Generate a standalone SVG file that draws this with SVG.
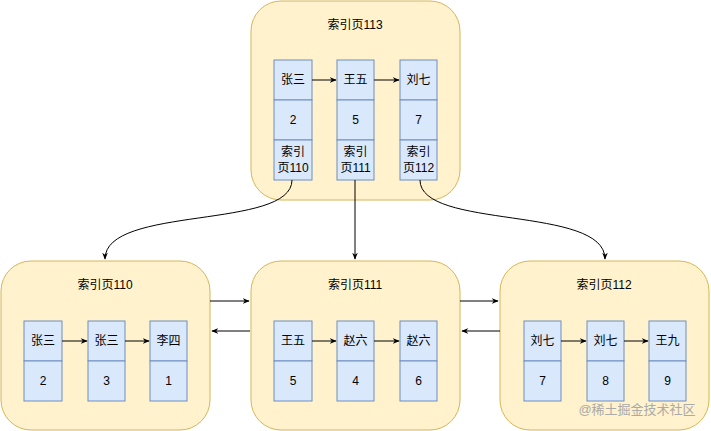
<svg xmlns="http://www.w3.org/2000/svg" width="711" height="431" viewBox="0 0 711 431">
<style>
.box{fill:#fff2cc;stroke:#d6b656;stroke-width:1}
.cell{fill:#dae8fc;stroke:#6c8ebf;stroke-width:1}
text{font-family:"Liberation Sans","Noto Sans CJK SC",sans-serif;font-size:12px;fill:#000;text-anchor:middle;dominant-baseline:central}
.c{fill:none;stroke:#000;stroke-width:1}
</style>
<defs><marker id="a" viewBox="0 0 10 10" refX="9" refY="5" markerWidth="7" markerHeight="7" orient="auto"><path d="M0,1 L10,5 L0,9 L3,5Z" fill="#000"/></marker></defs>
<rect width="711" height="431" fill="#fff"/>
<g id="p113">
<rect class="box" x="251" y="1" width="209" height="199" rx="30"/>
<text x="355" y="25">索引页113</text>
<rect class="cell" x="274" y="60" width="38" height="40"/><rect class="cell" x="274" y="100" width="38" height="40"/><rect class="cell" x="274" y="140" width="38" height="40"/>
<rect class="cell" x="337" y="60" width="37" height="40"/><rect class="cell" x="337" y="100" width="37" height="40"/><rect class="cell" x="337" y="140" width="37" height="40"/>
<rect class="cell" x="400" y="60" width="37" height="40"/><rect class="cell" x="400" y="100" width="37" height="40"/><rect class="cell" x="400" y="140" width="37" height="40"/>
<text x="293" y="80">张三</text><text x="293" y="120">2</text><text x="293" y="152">索引</text><text x="293" y="168">页110</text>
<text x="355.5" y="80">王五</text><text x="355.5" y="120">5</text><text x="355.5" y="152">索引</text><text x="355.5" y="168">页111</text>
<text x="418.5" y="80">刘七</text><text x="418.5" y="120">7</text><text x="418.5" y="152">索引</text><text x="418.5" y="168">页112</text>
</g>
<g id="p110">
<rect class="box" x="1" y="261" width="209" height="169" rx="30"/>
<text x="105" y="285">索引页110</text>
<rect class="cell" x="24" y="321" width="38" height="40"/><rect class="cell" x="24" y="361" width="38" height="40"/>
<rect class="cell" x="88" y="321" width="37" height="40"/><rect class="cell" x="88" y="361" width="37" height="40"/>
<rect class="cell" x="150" y="321" width="37" height="40"/><rect class="cell" x="150" y="361" width="37" height="40"/>
<text x="43" y="341">张三</text><text x="43" y="381">2</text>
<text x="106.5" y="341">张三</text><text x="106.5" y="381">3</text>
<text x="168.5" y="341">李四</text><text x="168.5" y="381">1</text>
</g>
<g id="p111">
<rect class="box" x="251" y="261" width="209" height="169" rx="30"/>
<text x="355" y="285">索引页111</text>
<rect class="cell" x="274" y="321" width="38" height="40"/><rect class="cell" x="274" y="361" width="38" height="40"/>
<rect class="cell" x="337" y="321" width="37" height="40"/><rect class="cell" x="337" y="361" width="37" height="40"/>
<rect class="cell" x="400" y="321" width="37" height="40"/><rect class="cell" x="400" y="361" width="37" height="40"/>
<text x="293" y="341">王五</text><text x="293" y="381">5</text>
<text x="355.5" y="341">赵六</text><text x="355.5" y="381">4</text>
<text x="418.5" y="341">赵六</text><text x="418.5" y="381">6</text>
</g>
<g id="p112">
<rect class="box" x="500" y="261" width="209" height="169" rx="30"/>
<text x="604" y="285">索引页112</text>
<rect class="cell" x="524" y="321" width="37" height="40"/><rect class="cell" x="524" y="361" width="37" height="40"/>
<rect class="cell" x="587" y="321" width="37" height="40"/><rect class="cell" x="587" y="361" width="37" height="40"/>
<rect class="cell" x="649" y="321" width="37" height="40"/><rect class="cell" x="649" y="361" width="37" height="40"/>
<text x="542.5" y="341">刘七</text><text x="542.5" y="381">7</text>
<text x="605.5" y="341">刘七</text><text x="605.5" y="381">8</text>
<text x="667.5" y="341">王九</text><text x="667.5" y="381">9</text>
</g>
<g id="connectors">
<path class="c" d="M312,80 H336" marker-end="url(#a)"/>
<path class="c" d="M374,80 H399" marker-end="url(#a)"/>
<path class="c" d="M62,341 H87" marker-end="url(#a)"/>
<path class="c" d="M125,341 H149" marker-end="url(#a)"/>
<path class="c" d="M312,341 H336" marker-end="url(#a)"/>
<path class="c" d="M374,341 H399" marker-end="url(#a)"/>
<path class="c" d="M561,341 H586" marker-end="url(#a)"/>
<path class="c" d="M624,341 H648" marker-end="url(#a)"/>
<path class="c" d="M292,180 C292,230 105,205 105,259" marker-end="url(#a)"/>
<path class="c" d="M355,180 V259" marker-end="url(#a)"/>
<path class="c" d="M420,180 C420,230 605,205 605,259" marker-end="url(#a)"/>
<path class="c" d="M210,301 H249" marker-end="url(#a)"/>
<path class="c" d="M250,331 H212" marker-end="url(#a)"/>
<path class="c" d="M460,301 H498" marker-end="url(#a)"/>
<path class="c" d="M500,331 H462" marker-end="url(#a)"/>
</g>
<text x="637" y="409" style="fill:#aaa;font-size:13px">@稀土掘金技术社区</text>
</svg>
